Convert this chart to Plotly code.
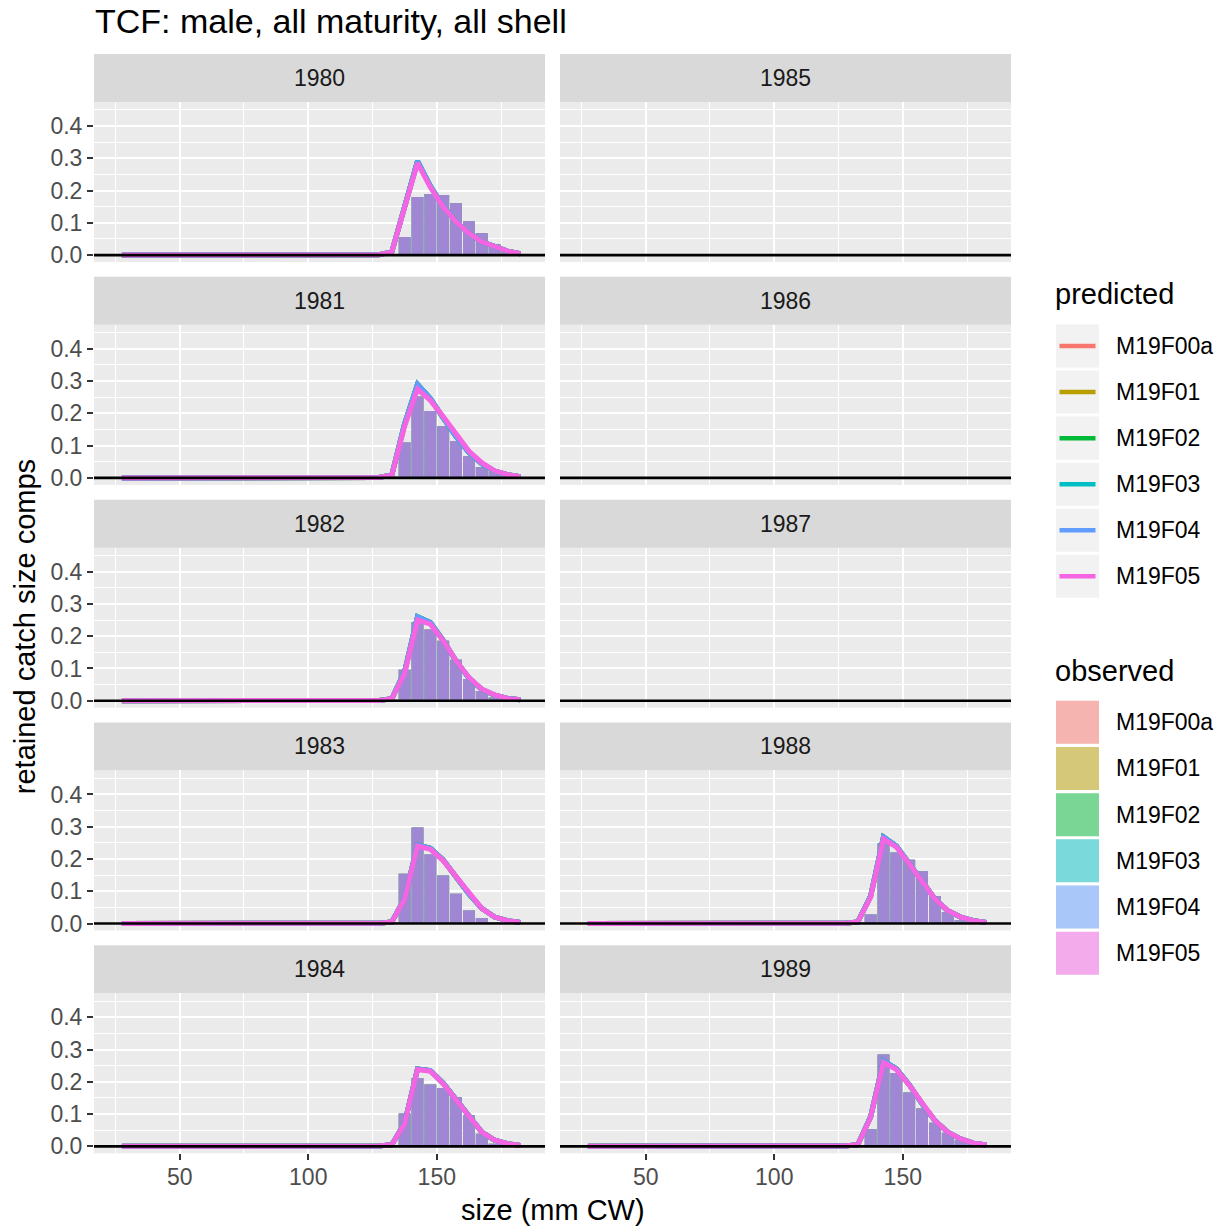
import plotly.graph_objects as go

# ---------------- data ----------------
sizes = [27.5, 32.5, 37.5, 42.5, 47.5, 52.5, 57.5, 62.5, 67.5, 72.5, 77.5, 82.5,
         87.5, 92.5, 97.5, 102.5, 107.5, 112.5, 117.5, 122.5, 127.5, 132.5, 137.5,
         142.5, 147.5, 152.5, 157.5, 162.5, 167.5, 172.5, 177.5, 182.5]

years = ["1980", "1981", "1982", "1983", "1984", "1985", "1986", "1987", "1988", "1989"]
models = ["M19F00a", "M19F01", "M19F02", "M19F03", "M19F04", "M19F05"]
model_colors = ["#F8766D", "#B79F00", "#00BA38", "#00BFC4", "#619CFF", "#F564E3"]
model_fills = ["rgba(248,118,109,0.5)", "rgba(183,159,0,0.5)", "rgba(0,186,56,0.5)",
               "rgba(0,191,196,0.5)", "rgba(97,156,255,0.5)", "rgba(245,100,227,0.5)"]

Z20 = [0, 0, 0, 0, 0, 0, 0, 0, 0, 0, 0, 0, 0, 0, 0, 0, 0, 0, 0, 0]

# observed (same for every model)
obs_1980 = Z20 + [0, 0, 0.056, 0.180, 0.189, 0.186, 0.161, 0.105, 0.068, 0.034, 0.014, 0.003]
obs_1981 = Z20 + [0, 0.004, 0.110, 0.252, 0.207, 0.160, 0.114, 0.067, 0.033, 0.020, 0.006, 0.002]
obs_1982 = Z20 + [0, 0.003, 0.096, 0.243, 0.221, 0.186, 0.127, 0.067, 0.030, 0.010, 0.005, 0.002]
obs_1983 = Z20 + [0, 0.003, 0.154, 0.298, 0.214, 0.149, 0.092, 0.040, 0.017, 0.003, 0, 0]
obs_1984 = Z20 + [0, 0.003, 0.102, 0.212, 0.192, 0.181, 0.152, 0.096, 0.039, 0.008, 0.002, 0]
obs_1988 = Z20 + [0, 0.003, 0.028, 0.249, 0.220, 0.198, 0.162, 0.085, 0.036, 0.010, 0.003, 0]
obs_1989 = Z20 + [0, 0.003, 0.053, 0.285, 0.227, 0.167, 0.117, 0.073, 0.042, 0.020, 0.008, 0.003]

# predicted, M19F05 (drawn on top)
p05_1980 = Z20 + [0.001, 0.010, 0.148, 0.285, 0.210, 0.150, 0.103, 0.067, 0.041, 0.025, 0.012, 0.004]
p05_1981 = Z20 + [0.001, 0.008, 0.160, 0.275, 0.240, 0.190, 0.134, 0.083, 0.047, 0.022, 0.010, 0.004]
p05_1982 = Z20 + [0.001, 0.006, 0.085, 0.250, 0.237, 0.186, 0.124, 0.072, 0.036, 0.018, 0.007, 0.003]
p05_1983 = Z20 + [0.001, 0.005, 0.076, 0.240, 0.230, 0.195, 0.144, 0.092, 0.047, 0.020, 0.009, 0.003]
p05_1984 = Z20 + [0.001, 0.005, 0.070, 0.238, 0.233, 0.194, 0.143, 0.091, 0.044, 0.019, 0.008, 0.003]
p05_1988 = Z20 + [0.001, 0.005, 0.082, 0.262, 0.237, 0.185, 0.128, 0.076, 0.040, 0.020, 0.009, 0.003]
p05_1989 = Z20 + [0.001, 0.005, 0.090, 0.260, 0.238, 0.190, 0.132, 0.080, 0.044, 0.023, 0.010, 0.004]

# predicted, other models (nearly identical, visible only as thin edges)
p04_1980 = Z20 + [0.001, 0.010, 0.152, 0.291, 0.214, 0.152, 0.104, 0.067, 0.041, 0.025, 0.012, 0.004]
p04_1981 = Z20 + [0.001, 0.009, 0.168, 0.290, 0.246, 0.186, 0.128, 0.079, 0.044, 0.021, 0.010, 0.004]
p04_1982 = Z20 + [0.001, 0.006, 0.090, 0.260, 0.242, 0.187, 0.123, 0.070, 0.035, 0.017, 0.007, 0.003]
p04_1983 = Z20 + [0.001, 0.005, 0.078, 0.243, 0.233, 0.197, 0.145, 0.092, 0.047, 0.020, 0.009, 0.003]
p04_1984 = Z20 + [0.001, 0.005, 0.072, 0.240, 0.235, 0.196, 0.144, 0.091, 0.044, 0.019, 0.008, 0.003]
p04_1988 = Z20 + [0.001, 0.005, 0.085, 0.268, 0.240, 0.186, 0.128, 0.076, 0.040, 0.020, 0.009, 0.003]
p04_1989 = Z20 + [0.001, 0.005, 0.092, 0.264, 0.241, 0.191, 0.132, 0.080, 0.044, 0.023, 0.010, 0.004]

observed = {"1980": obs_1980, "1981": obs_1981, "1982": obs_1982, "1983": obs_1983,
            "1984": obs_1984, "1988": obs_1988, "1989": obs_1989}
pred05 = {"1980": p05_1980, "1981": p05_1981, "1982": p05_1982, "1983": p05_1983,
          "1984": p05_1984, "1988": p05_1988, "1989": p05_1989}
pred04 = {"1980": p04_1980, "1981": p04_1981, "1982": p04_1982, "1983": p04_1983,
          "1984": p04_1984, "1988": p04_1988, "1989": p04_1989}

x_ticks = [50, 100, 150]
y_ticks = [0.0, 0.1, 0.2, 0.3, 0.4]
y_ticktext = ["0.0", "0.1", "0.2", "0.3", "0.4"]

# ---------------- layout geometry ----------------
W, H = 1227, 1228
SY = 1.0052  # small vertical correction measured from the rendered page
FONT = "Liberation Sans, Arial, Helvetica, sans-serif"


def fx(p):
    return p / W


def fy(p):
    return 1 - (p * SY) / H


col_x = [(94, 545), (560, 1011)]
ROW_STEP = 222.75
PANEL_TOP0, PANEL_BOT0 = 102, 262
STRIP_TOP0 = 54

fig = go.Figure()
layout = dict(
    width=W, height=H, autosize=False,
    margin=dict(l=0, r=0, t=0, b=0),
    paper_bgcolor="white", plot_bgcolor="#EBEBEB",
    barmode="overlay", showlegend=False,
    font=dict(family=FONT, color="#1A1A1A"),
)
shapes = []
annotations = []

for idx, year in enumerate(years):
    n = idx + 1
    col = idx // 5
    row = idx % 5
    xs = "" if n == 1 else str(n)
    x0p, x1p = col_x[col]
    top = PANEL_TOP0 + row * ROW_STEP
    bot = PANEL_BOT0 + row * ROW_STEP
    layout["xaxis" + xs] = dict(
        domain=[fx(x0p), fx(x1p)], anchor="y" + xs, range=[16.65, 192.1],
        tickmode="array", tickvals=x_ticks, ticktext=[str(v) for v in x_ticks],
        showticklabels=(row == 4), ticks="outside" if row == 4 else "",
        ticklen=6, tickwidth=1.5, tickcolor="#333333", ticklabelstandoff=-3,
        tickfont=dict(size=23, color="#4D4D4D", family=FONT),
        showgrid=True, gridcolor="white", gridwidth=1.5, zeroline=False,
        showline=False, fixedrange=True,
        minor=dict(tickmode="linear", tick0=25, dtick=50, showgrid=True,
                   gridcolor="white", gridwidth=0.7, ticks=""),
    )
    layout["yaxis" + xs] = dict(
        domain=[fy(bot), fy(top)], anchor="x" + xs, range=[-0.0217, 0.4744],
        tickmode="array", tickvals=y_ticks, ticktext=y_ticktext,
        showticklabels=(col == 0), ticks="outside" if col == 0 else "",
        ticklen=6, tickwidth=1.5, tickcolor="#333333",
        tickfont=dict(size=23, color="#4D4D4D", family=FONT),
        showgrid=True, gridcolor="white", gridwidth=1.5, zeroline=False,
        showline=False, fixedrange=True,
        minor=dict(tickmode="linear", tick0=0.05, dtick=0.1, showgrid=True,
                   gridcolor="white", gridwidth=0.7, ticks=""),
    )
    # strip
    st = STRIP_TOP0 + row * ROW_STEP
    shapes.append(dict(type="rect", xref="paper", yref="paper",
                       x0=fx(x0p), x1=fx(x1p), y0=fy(top), y1=fy(st),
                       fillcolor="#D9D9D9", line=dict(width=0), layer="below"))
    annotations.append(dict(text=year, xref="paper", yref="paper",
                            x=fx((x0p + x1p) / 2), y=fy((st + top) / 2),
                            xanchor="center", yanchor="middle", showarrow=False,
                            font=dict(size=23, color="#1A1A1A", family=FONT)))
    # zero reference line
    shapes.append(dict(type="line", xref="x" + xs + " domain", yref="y" + xs,
                       x0=0, x1=1, y0=0, y1=0, line=dict(color="black", width=2.6),
                       layer="above"))

    if year in observed:
        for m, fc in zip(models, model_fills):
            fig.add_trace(go.Bar(x=sizes, y=observed[year], width=4.6,
                                 marker=dict(color=fc, line=dict(width=0)),
                                 name=m, xaxis="x" + xs, yaxis="y" + xs,
                                 showlegend=False, hoverinfo="skip"))
        for m, lc in zip(models, model_colors):
            yv = pred05[year] if m == "M19F05" else pred04[year]
            fig.add_trace(go.Scatter(x=sizes, y=yv, mode="lines",
                                     line=dict(color=lc, width=5),
                                     name=m, xaxis="x" + xs, yaxis="y" + xs,
                                     showlegend=False, hoverinfo="skip"))

# ---------------- titles ----------------
annotations.append(dict(text="TCF: male, all maturity, all shell", xref="paper", yref="paper",
                        x=fx(93), y=fy(21), xanchor="left", yanchor="middle",
                        showarrow=False, font=dict(size=34, color="black", family=FONT)))
annotations.append(dict(text="size (mm CW)", xref="paper", yref="paper",
                        x=fx(552.5), y=fy(1210), xanchor="center", yanchor="middle",
                        showarrow=False, font=dict(size=29, color="black", family=FONT)))
annotations.append(dict(text="retained catch size comps", xref="paper", yref="paper",
                        x=fx(25), y=fy(627), xanchor="center", yanchor="middle",
                        textangle=-90, showarrow=False,
                        font=dict(size=29, color="black", family=FONT)))

# ---------------- legends (drawn) ----------------
KX0, KX1 = 1056, 1099
annotations.append(dict(text="predicted", xref="paper", yref="paper",
                        x=fx(1053), y=fy(294), xanchor="left", yanchor="middle",
                        showarrow=False, font=dict(size=29, color="black", family=FONT)))
for i, (m, lc) in enumerate(zip(models, model_colors)):
    cy = 346 + 46 * i
    shapes.append(dict(type="rect", xref="paper", yref="paper",
                       x0=fx(KX0), x1=fx(KX1), y0=fy(cy + 21.5), y1=fy(cy - 21.5),
                       fillcolor="#F2F2F2", line=dict(width=0)))
    shapes.append(dict(type="line", xref="paper", yref="paper",
                       x0=fx(KX0 + 3.5), x1=fx(KX1 - 3.5), y0=fy(cy), y1=fy(cy),
                       line=dict(color=lc, width=4.5)))
    annotations.append(dict(text=m, xref="paper", yref="paper",
                            x=fx(1114), y=fy(cy), xanchor="left", yanchor="middle",
                            showarrow=False, font=dict(size=23, color="black", family=FONT)))

annotations.append(dict(text="observed", xref="paper", yref="paper",
                        x=fx(1053), y=fy(671), xanchor="left", yanchor="middle",
                        showarrow=False, font=dict(size=29, color="black", family=FONT)))
for i, (m, fc) in enumerate(zip(models, model_fills)):
    cy = 722 + 46.2 * i
    shapes.append(dict(type="rect", xref="paper", yref="paper",
                       x0=fx(KX0), x1=fx(KX1), y0=fy(cy + 21.5), y1=fy(cy - 21.5),
                       fillcolor="#F2F2F2", line=dict(width=0)))
    shapes.append(dict(type="rect", xref="paper", yref="paper",
                       x0=fx(KX0), x1=fx(KX1), y0=fy(cy + 21.5), y1=fy(cy - 21.5),
                       fillcolor=fc, line=dict(width=0)))
    annotations.append(dict(text=m, xref="paper", yref="paper",
                            x=fx(1114), y=fy(cy), xanchor="left", yanchor="middle",
                            showarrow=False, font=dict(size=23, color="black", family=FONT)))

layout["shapes"] = shapes
layout["annotations"] = annotations
fig.update_layout(**layout)
fig.write_html(
    "out.html",
    config={"displayModeBar": False},
    post_script="document.body.style.margin='0';document.body.style.overflow='hidden';",
)
